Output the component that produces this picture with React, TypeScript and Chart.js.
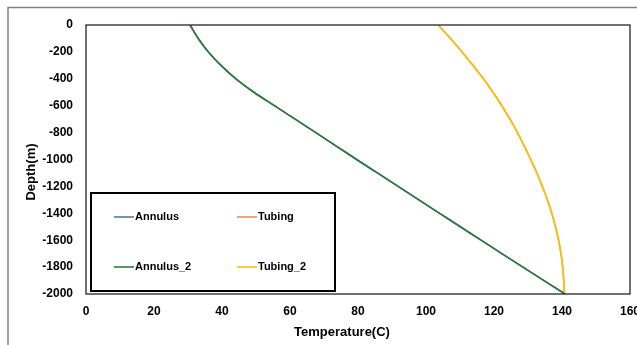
import React, { useEffect, useRef } from "react";
import { Chart, registerables } from "chart.js";

Chart.register(...registerables);

const depths = [0, -100, -200, -300, -400, -500, -600, -700, -800, -900, -1000, -1100, -1200, -1300, -1400, -1500, -1600, -1700, -1800, -1900, -2000];
const annulusTemps = [30.6, 33.0, 36.0, 39.7, 44.1, 49.4, 55.4, 61.5, 67.6, 73.6, 79.6, 85.7, 91.8, 97.9, 104.0, 110.1, 116.2, 122.3, 128.5, 134.7, 140.9];
const tubingTemps = [103.6, 107.2, 110.6, 113.8, 116.9, 119.7, 122.3, 124.7, 126.9, 128.9, 130.8, 132.6, 134.2, 135.7, 137.0, 138.1, 139.0, 139.7, 140.2, 140.5, 140.7];
const annulus2Temps = [30.6, 33.0, 36.0, 39.7, 44.1, 49.4, 55.4, 61.5, 67.6, 73.6, 79.6, 85.7, 91.8, 97.9, 104.0, 110.1, 116.2, 122.3, 128.5, 134.7, 140.9];
const tubing2Temps = [103.6, 107.2, 110.6, 113.8, 116.9, 119.7, 122.3, 124.7, 126.9, 128.9, 130.8, 132.6, 134.2, 135.7, 137.0, 138.1, 139.0, 139.7, 140.2, 140.5, 140.7];

const seriesNames = ["Annulus", "Tubing", "Annulus_2", "Tubing_2"];
const seriesColors = ["#4E79A7", "#F08A5D", "#2E7A36", "#FFC000"];
const xTitle = "Temperature(C)";
const yTitle = "Depth(m)";

const FONT = "'Liberation Sans', Arial, sans-serif";

const toPoints = (temps: number[]) => temps.map((t, i) => ({ x: t, y: depths[i] }));

const decor = {
  id: "decor",
  beforeDraw(chart: any) {
    const ctx = chart.ctx;
    ctx.save();
    ctx.fillStyle = "#ffffff";
    ctx.fillRect(0, 0, chart.width, chart.height);
    ctx.strokeStyle = "#808080";
    ctx.lineWidth = 1.5;
    ctx.strokeRect(8, 7.5, 800, 500);
    ctx.restore();
  },
  afterDatasetsDraw(chart: any) {
    const ctx = chart.ctx;
    const a = chart.chartArea;
    ctx.save();
    ctx.strokeStyle = "#262626";
    ctx.lineWidth = 1.3;
    ctx.strokeRect(a.left, a.top, a.right - a.left, a.bottom - a.top);
    ctx.restore();
  },
  afterDraw(chart: any) {
    const ctx = chart.ctx;
    ctx.save();
    ctx.fillStyle = "#000000";
    ctx.font = `bold 13px ${FONT}`;
    ctx.textAlign = "center";
    ctx.textBaseline = "middle";
    ctx.fillText(xTitle, 342, 332);
    ctx.translate(31, 172);
    ctx.rotate(-Math.PI / 2);
    ctx.fillText(yTitle, 0, 0);
    ctx.restore();

    // legend
    ctx.save();
    ctx.fillStyle = "#ffffff";
    ctx.fillRect(90, 192, 246, 100);
    ctx.strokeStyle = "#000000";
    ctx.lineWidth = 2;
    ctx.strokeRect(91, 193, 244, 98);
    const cols = [114, 237];
    const rows = [217, 267];
    ctx.font = `bold 11px ${FONT}`;
    ctx.textAlign = "left";
    ctx.textBaseline = "middle";
    chart.data.datasets.forEach((ds: any, i: number) => {
      const cx = cols[i % 2];
      const cy = rows[Math.floor(i / 2)];
      ctx.strokeStyle = ds.borderColor;
      ctx.lineWidth = 1.6;
      ctx.beginPath();
      ctx.moveTo(cx, cy);
      ctx.lineTo(cx + 20, cy);
      ctx.stroke();
      ctx.fillStyle = "#000000";
      ctx.fillText(ds.label, cx + 21, cy);
    });
    ctx.restore();
  },
};

export default function App() {
  const ref = useRef<HTMLCanvasElement>(null);
  useEffect(() => {
    document.body.style.margin = "0";
    document.body.style.overflow = "hidden";
    const allTemps = [annulusTemps, tubingTemps, annulus2Temps, tubing2Temps];
    const orders = [3, 4, 1, 2];
    const chart = new Chart(ref.current!, {
      type: "scatter",
      data: {
        datasets: allTemps.map((t, i) => ({
          label: seriesNames[i],
          data: toPoints(t),
          showLine: true,
          borderColor: seriesColors[i],
          backgroundColor: seriesColors[i],
          borderWidth: 1.6,
          pointRadius: 0,
          cubicInterpolationMode: "monotone",
          order: orders[i],
        })),
      },
      options: {
        animation: false,
        responsive: false,
        events: [],
        layout: { padding: { left: 0, top: 25, right: 50, bottom: 0 } },
        plugins: { legend: { display: false }, tooltip: { enabled: false } },
        scales: {
          x: {
            type: "linear",
            min: 0,
            max: 160,
            grid: { display: false, drawTicks: false },
            border: { display: false },
            ticks: {
              stepSize: 20,
              padding: 10,
              color: "#000000",
              font: { family: FONT, size: 12, weight: "bold" },
              callback: (v: any) => String(v),
            },
            afterFit: (s: any) => {
              s.height = 51;
            },
          },
          y: {
            type: "linear",
            min: -2000,
            max: 0,
            grid: { display: false, drawTicks: false },
            border: { display: false },
            ticks: {
              stepSize: 200,
              padding: 13,
              color: "#000000",
              font: { family: FONT, size: 12, weight: "bold" },
              callback: (v: any) => String(v),
            },
            afterFit: (s: any) => {
              s.width = 86;
            },
          },
        },
      },
      plugins: [decor],
    });
    return () => chart.destroy();
  }, []);
  return (
    <div style={{ position: "fixed", left: 0, top: 0, width: 637, height: 345, overflow: "hidden" }}>
      <canvas ref={ref} width={680} height={345} style={{ display: "block" }} />
    </div>
  );
}
